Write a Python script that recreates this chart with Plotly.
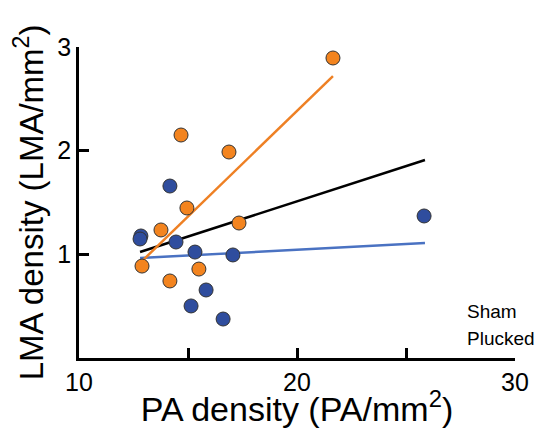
import plotly.graph_objects as go

# Data
sham_x = [12.84, 12.80, 14.45, 15.32, 17.06, 15.83, 15.14, 16.61, 14.17, 25.83]
sham_y = [1.177, 1.148, 1.119, 1.022, 0.994, 0.656, 0.502, 0.376, 1.659, 1.370]

plucked_x = [14.68, 16.88, 14.95, 13.76, 17.34, 12.89, 15.50, 14.17, 21.65]
plucked_y = [2.151, 1.987, 1.447, 1.235, 1.302, 0.887, 0.858, 0.743, 2.894]

# fitted lines (end points)
all_fit_x = [12.80, 25.87]
all_fit_y = [1.022, 1.910]
sham_fit_x = [12.80, 25.87]
sham_fit_y = [0.965, 1.109]
plucked_fit_x = [12.94, 21.65]
plucked_fit_y = [0.945, 2.720]

x_tickvals = [10, 15, 20, 25, 30]
x_ticktext = ["10", "", "20", "", "30"]
y_tickvals = [1, 2, 3]
y_ticktext = ["1", "2", "3"]

legend_labels = ["Sham", "Plucked"]

BLUE = "#2f4d9e"
ORANGE = "#f3841f"
BLUE_LINE = "#4a72c2"
ORANGE_LINE = "#ee8024"
FONT = "Arial, Liberation Sans, sans-serif"

X_RANGE = [10, 30]
Y_RANGE = [0, 3]

# page body has an 8px margin: figure is 542x420 drawn at (8, 8)
OFF = 8
W, H = 550 - OFF, 428 - OFF
ml, mr, mt, mb = 79 - OFF, 35, 47 - OFF, 70
pw, ph = W - ml - mr, H - mt - mb

fig = go.Figure()

fig.add_trace(go.Scatter(x=sham_fit_x, y=sham_fit_y, mode="lines",
                         line=dict(color=BLUE_LINE, width=2.5), showlegend=False))
fig.add_trace(go.Scatter(x=all_fit_x, y=all_fit_y, mode="lines",
                         line=dict(color="black", width=2.5), showlegend=False))
fig.add_trace(go.Scatter(x=plucked_fit_x, y=plucked_fit_y, mode="lines",
                         line=dict(color=ORANGE_LINE, width=2.5), showlegend=False))

fig.add_trace(go.Scatter(x=sham_x, y=sham_y, mode="markers", name="Sham",
                         marker=dict(color=BLUE, size=14, line=dict(color="#333333", width=1)),
                         showlegend=False))
fig.add_trace(go.Scatter(x=plucked_x, y=plucked_y, mode="markers", name="Plucked",
                         marker=dict(color=ORANGE, size=14, line=dict(color="#333333", width=1)),
                         showlegend=False))

# legend: text then marker (marker clipped at right edge of the page)
leg_y_px = [311, 338]
R = 7
for lab, ypx, col in zip(legend_labels, leg_y_px, [BLUE, ORANGE]):
    fig.add_annotation(text=lab, xref="paper", yref="paper",
                       x=(465 - OFF - ml) / pw, y=(H - mb - (ypx - OFF)) / ph,
                       xanchor="left", yanchor="middle", showarrow=False,
                       font=dict(family=FONT, size=19, color="black"))
    cx = 551 - OFF - ml
    cy = H - mb - (ypx - OFF)
    fig.add_shape(type="circle", xref="paper", yref="paper", layer="above",
                  x0=(cx - R) / pw, x1=(cx + R) / pw,
                  y0=(cy - R) / ph, y1=(cy + R) / ph,
                  fillcolor=col, line=dict(color="#333333", width=1))

fig.update_layout(
    width=W, height=H,
    margin=dict(l=ml, r=mr, t=mt, b=mb, autoexpand=False),
    paper_bgcolor="white", plot_bgcolor="white",
    font=dict(family=FONT, color="black"),
    showlegend=False,
)
fig.update_xaxes(range=X_RANGE, tickvals=x_tickvals, ticktext=x_ticktext,
                 ticks="inside", ticklen=10, tickwidth=2.5, tickcolor="black",
                 showline=True, linecolor="black", linewidth=2.5,
                 showgrid=False, zeroline=False, automargin=False,
                 tickfont=dict(size=25, family=FONT),
                 title=dict(text="PA density (PA/mm<sup>2</sup>)", font=dict(size=34, family=FONT), standoff=0))
fig.update_yaxes(range=Y_RANGE, tickvals=y_tickvals, ticktext=y_ticktext,
                 ticks="inside", ticklen=10, tickwidth=2.5, tickcolor="black",
                 showline=True, linecolor="black", linewidth=2.5,
                 showgrid=False, zeroline=False, automargin=False,
                 tickfont=dict(size=25, family=FONT),
                 title=dict(text="LMA density (LMA/mm<sup>2</sup>)", font=dict(size=33, family=FONT), standoff=4))

fig.write_html(
    "out.html",
    post_script="document.documentElement.style.overflow='hidden';document.body.style.overflow='hidden';",
)
